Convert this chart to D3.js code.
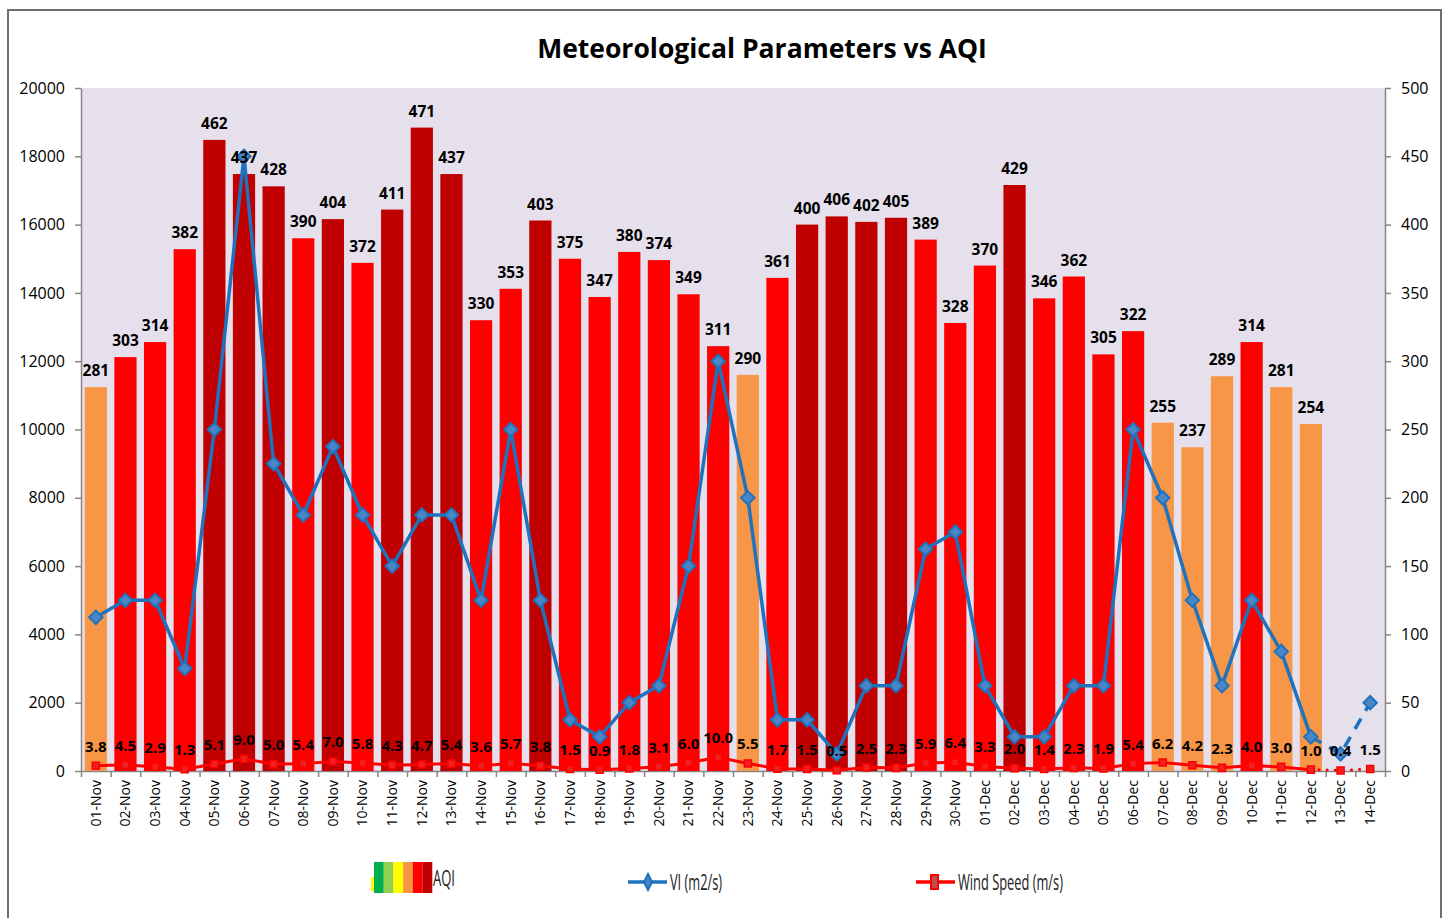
<!DOCTYPE html>
<html>
<head>
<meta charset="utf-8">
<script src="https://cdn.jsdelivr.net/npm/d3@7"></script>
<style>
  body { margin: 0; background: #fff; }
  text { font-family: "Open Sans", sans-serif; }
</style>
</head>
<body>
<div id="chart"></div>
<script>
// Data
const dates = ['01-Nov', '02-Nov', '03-Nov', '04-Nov', '05-Nov', '06-Nov', '07-Nov', '08-Nov', '09-Nov', '10-Nov',
  '11-Nov', '12-Nov', '13-Nov', '14-Nov', '15-Nov', '16-Nov', '17-Nov', '18-Nov', '19-Nov', '20-Nov',
  '21-Nov', '22-Nov', '23-Nov', '24-Nov', '25-Nov', '26-Nov', '27-Nov', '28-Nov', '29-Nov', '30-Nov',
  '01-Dec', '02-Dec', '03-Dec', '04-Dec', '05-Dec', '06-Dec', '07-Dec', '08-Dec', '09-Dec', '10-Dec',
  '11-Dec', '12-Dec', '13-Dec', '14-Dec']
const aqi = [281, 303, 314, 382, 462, 437, 428, 390, 404, 372,
  411, 471, 437, 330, 353, 403, 375, 347, 380, 374,
  349, 311, 290, 361, 400, 406, 402, 405, 389, 328,
  370, 429, 346, 362, 305, 322, 255, 237, 289, 314,
  281, 254, null, null]
const vi = [4500, 5000, 5000, 3000, 10000, 18000, 9000, 7500, 9500, 7500,
  6000, 7500, 7500, 5000, 10000, 5000, 1500, 1000, 2000, 2500,
  6000, 12000, 8000, 1500, 1500, 500, 2500, 2500, 6500, 7000,
  2500, 1000, 1000, 2500, 2500, 10000, 8000, 5000, 2500, 5000,
  3500, 1000, 500, 2000]
const wind = [3.8, 4.5, 2.9, 1.3, 5.1, 9.0, 5.0, 5.4, 7.0, 5.8,
  4.3, 4.7, 5.4, 3.6, 5.7, 3.8, 1.5, 0.9, 1.8, 3.1,
  6.0, 10.0, 5.5, 1.7, 1.5, 0.5, 2.5, 2.3, 5.9, 6.4,
  3.3, 2.0, 1.4, 2.3, 1.9, 5.4, 6.2, 4.2, 2.3, 4.0,
  3.0, 1.0, 0.4, 1.5]
const lastSolid = 41 // 12-Dec: lines turn dashed after this
const aqiBreaks = [300, 400]
const aqiColors = ['#F79646', '#FF0000', '#C00000']
const legendAqiColors = ['#00B050', '#92D050', '#FFFF00', '#F79646', '#FF0000', '#C00000']

const width = 1447, height = 918
const plot = { left: 81, right: 1385, top: 88, bottom: 771 }

const svg = d3.select('#chart').append('svg')
  .attr('width', width)
  .attr('height', height)

// chart frame
svg.append('rect')
  .attr('x', 8).attr('y', 10)
  .attr('width', 1433).attr('height', 920)
  .attr('fill', '#fff')
  .attr('stroke', '#6f6f6f')
  .attr('stroke-width', 2)

svg.append('rect')
  .attr('x', plot.left).attr('y', plot.top)
  .attr('width', plot.right - plot.left).attr('height', plot.bottom - plot.top)
  .attr('fill', '#E6E0EC')

svg.append('text')
  .attr('x', 762).attr('y', 58)
  .attr('text-anchor', 'middle')
  .style('font-size', '26.5px')
  .style('font-weight', 'bold')
  .text('Meteorological Parameters vs AQI')

// scales
const x = d3.scaleBand().domain(dates).range([plot.left, plot.right]).paddingInner(0.25).paddingOuter(0.125)
const xEdge = d3.scaleLinear().domain([0, dates.length]).range([plot.left, plot.right])
const yL = d3.scaleLinear().domain([0, 20000]).range([plot.bottom, plot.top])
const yR = d3.scaleLinear().domain([0, 500]).range([plot.bottom, plot.top])
const color = d3.scaleThreshold().domain(aqiBreaks).range(aqiColors)
const cx = (d, i) => x(dates[i]) + x.bandwidth() / 2

// axes
const styleAxis = (g) => {
  g.select('.domain').attr('stroke', '#868686').attr('stroke-width', 1.5)
  g.selectAll('.tick line').attr('stroke', '#868686').attr('stroke-width', 1.5)
  g.selectAll('.tick text').style('font-size', '16px').attr('fill', '#000')
}
svg.append('g')
  .attr('transform', `translate(${plot.left},0)`)
  .call(d3.axisLeft(yL).tickValues(d3.range(0, 20001, 2000)).tickFormat(d3.format('d'))
    .tickSize(6).tickPadding(10).tickSizeOuter(0))
  .call(styleAxis)
svg.append('g')
  .attr('transform', `translate(${plot.right},0)`)
  .call(d3.axisRight(yR).tickValues(d3.range(0, 501, 50)).tickSize(6).tickPadding(10).tickSizeOuter(0))
  .call(styleAxis)
svg.append('g')
  .attr('transform', `translate(0,${plot.bottom})`)
  .call(d3.axisBottom(xEdge).tickValues(d3.range(0, dates.length + 1)).tickFormat('').tickSize(6).tickSizeOuter(0))
  .call(styleAxis)
svg.append('g')
  .attr('transform', `translate(0,${plot.bottom})`)
  .call(d3.axisBottom(x).tickSize(0).tickPadding(0))
  .call(g => g.select('.domain').remove())
  .selectAll('.tick text')
  .attr('transform', 'rotate(-90)')
  .attr('x', -9).attr('y', 0).attr('dy', '0.35em')
  .attr('text-anchor', 'end')
  .style('font-size', '14px')
  .attr('fill', '#000')

// AQI bars
const bars = aqi.map((v, i) => ({ v, i })).filter(d => d.v != null)
svg.append('g').selectAll('rect')
  .data(bars)
  .join('rect')
  .attr('x', d => x(dates[d.i]))
  .attr('y', d => yR(d.v))
  .attr('width', x.bandwidth())
  .attr('height', d => plot.bottom - yR(d.v))
  .attr('fill', d => color(d.v))

// VI line
const viPts = vi.map((v, i) => [cx(v, i), yL(v)])
svg.append('path')
  .attr('d', d3.line()(viPts.slice(0, lastSolid + 1)))
  .attr('fill', 'none').attr('stroke', '#1F72BD').attr('stroke-width', 3.5)
svg.append('path')
  .attr('d', d3.line()(viPts.slice(lastSolid)))
  .attr('fill', 'none').attr('stroke', '#1F72BD').attr('stroke-width', 3.5)
  .attr('stroke-dasharray', '12,9')
svg.append('g').selectAll('path')
  .data(viPts)
  .join('path')
  .attr('d', d3.symbol(d3.symbolSquare, 90))
  .attr('transform', d => `translate(${d[0]},${d[1]}) rotate(45)`)
  .attr('fill', '#4A86C5').attr('stroke', '#1F72BD').attr('stroke-width', 2)

// wind line
const wPts = wind.map((v, i) => [cx(v, i), yR(v)])
svg.append('path')
  .attr('d', d3.line()(wPts.slice(0, lastSolid + 1)))
  .attr('fill', 'none').attr('stroke', '#FF0000').attr('stroke-width', 3)
svg.append('path')
  .attr('d', d3.line()(wPts.slice(lastSolid)))
  .attr('fill', 'none').attr('stroke', '#FF0000').attr('stroke-width', 3)
  .attr('stroke-linecap', 'round').attr('stroke-dasharray', '0.1,8')
svg.append('g').selectAll('path')
  .data(wPts)
  .join('path')
  .attr('d', d3.symbol(d3.symbolSquare, 50))
  .attr('transform', d => `translate(${d[0]},${d[1]})`)
  .attr('fill', '#F02020').attr('stroke', '#FF0000').attr('stroke-width', 1.5)

// labels
svg.append('g').selectAll('text')
  .data(bars)
  .join('text')
  .attr('x', d => cx(d.v, d.i))
  .attr('y', d => yR(d.v) - 11)
  .attr('text-anchor', 'middle')
  .style('font-size', '15.5px').style('font-weight', 'bold')
  .text(d => d.v)
svg.append('g').selectAll('text')
  .data(wind)
  .join('text')
  .attr('x', (d, i) => cx(d, i))
  .attr('y', d => yR(d) - 14)
  .attr('text-anchor', 'middle')
  .style('font-size', '15px').style('font-weight', 'bold')
  .text(d => d.toFixed(1))

// legend
const lg = svg.append('g')
const legendText = (xPos, yPos, len, label) => lg.append('text')
  .attr('x', xPos).attr('y', yPos)
  .attr('textLength', len).attr('lengthAdjust', 'spacingAndGlyphs')
  .style('font-size', '21px').attr('fill', '#222')
  .text(label)
lg.append('rect').attr('x', 371).attr('y', 877).attr('width', 3).attr('height', 14).attr('fill', '#FFFF00')
lg.selectAll('rect.sw')
  .data(legendAqiColors)
  .join('rect')
  .attr('class', 'sw')
  .attr('x', (d, i) => 374 + i * 9.7)
  .attr('y', 862)
  .attr('width', 9.8)
  .attr('height', 31)
  .attr('fill', d => d)
legendText(433, 886, 22, 'AQI')

lg.append('line').attr('x1', 628).attr('x2', 667).attr('y1', 882).attr('y2', 882)
  .attr('stroke', '#1F72BD').attr('stroke-width', 3.5)
lg.append('path').attr('d', 'M648,874 L652,882 L648,890 L644,882 Z')
  .attr('fill', '#4A86C5').attr('stroke', '#1F72BD').attr('stroke-width', 2)
legendText(670, 890, 52, 'VI (m2/s)')

lg.append('line').attr('x1', 916).attr('x2', 955).attr('y1', 882).attr('y2', 882)
  .attr('stroke', '#FF0000').attr('stroke-width', 3.5)
lg.append('rect').attr('x', 931).attr('y', 875).attr('width', 7).attr('height', 14)
  .attr('fill', '#C0504D').attr('stroke', '#FF0000').attr('stroke-width', 2)
legendText(958, 890, 105, 'Wind Speed (m/s)')
</script>
</body>
</html>
